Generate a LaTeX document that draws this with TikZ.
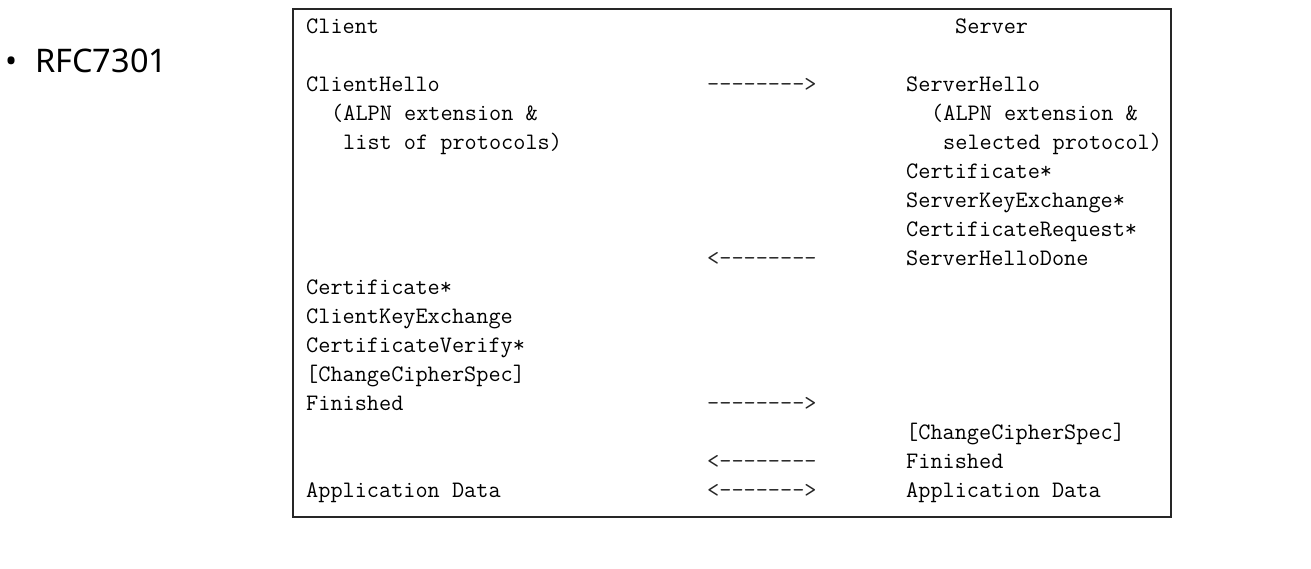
\documentclass[tikz,border=0pt]{standalone}
\usepackage{fontspec}
\setsansfont{Noto Sans}
\begin{document}
\begin{tikzpicture}[x=1pt,y=-1pt,
  mono/.style={anchor=base west,inner sep=0pt,font=\ttfamily\fontsize{23.6}{28}\selectfont,text=black},
  arr/.style={mono,text=black!85}]
\useasboundingbox (0,0) rectangle (1311,568);
\node[draw=black!85,line width=1.6pt,minimum width=878pt,minimum height=508pt,inner sep=0pt,anchor=north west] (frame) at (292,8) {};
\node[anchor=base west,inner sep=0pt,font=\sffamily\fontsize{32.5}{38}\selectfont] (bul) at (5,72) {\fontsize{32}{36}\selectfont\textbullet\fontsize{32.5}{38}\selectfont\hspace{18pt}RFC7301};
% left column
\node[mono] (c0) at (306,33) {Client};
\node[mono] (c2) at (306,91) {ClientHello};
\node[mono] (c3) at (331,120) {(ALPN extension \&};
\node[mono] (c4) at (343,149) {list of protocols)};
\node[mono] (c9) at (306,294) {Certificate*};
\node[mono] (c10) at (306,323) {ClientKeyExchange};
\node[mono] (c11) at (306,352) {CertificateVerify*};
\node[mono] (c12) at (306,381) {[ChangeCipherSpec]};
\node[mono] (c13) at (306,410) {Finished};
\node[mono] (c16) at (306,497) {Application Data};
% arrows
\node[arr] (a2) at (707,91) {-------->};
\node[arr] (a8) at (707,265) {<--------};
\node[arr] (a13) at (707,410) {-------->};
\node[arr] (a15) at (707,468) {<--------};
\node[arr] (a16) at (707,497) {<------->};
% right column
\node[mono] (s0) at (955,33) {Server};
\node[mono] (s2) at (906,91) {ServerHello};
\node[mono] (s3) at (931,120) {(ALPN extension \&};
\node[mono] (s4) at (943,149) {selected protocol)};
\node[mono] (s5) at (906,178) {Certificate*};
\node[mono] (s6) at (906,207) {ServerKeyExchange*};
\node[mono] (s7) at (906,236) {CertificateRequest*};
\node[mono] (s8) at (906,265) {ServerHelloDone};
\node[mono] (s14) at (906,439) {[ChangeCipherSpec]};
\node[mono] (s15) at (906,468) {Finished};
\node[mono] (s16) at (906,497) {Application Data};
\end{tikzpicture}
\end{document}
